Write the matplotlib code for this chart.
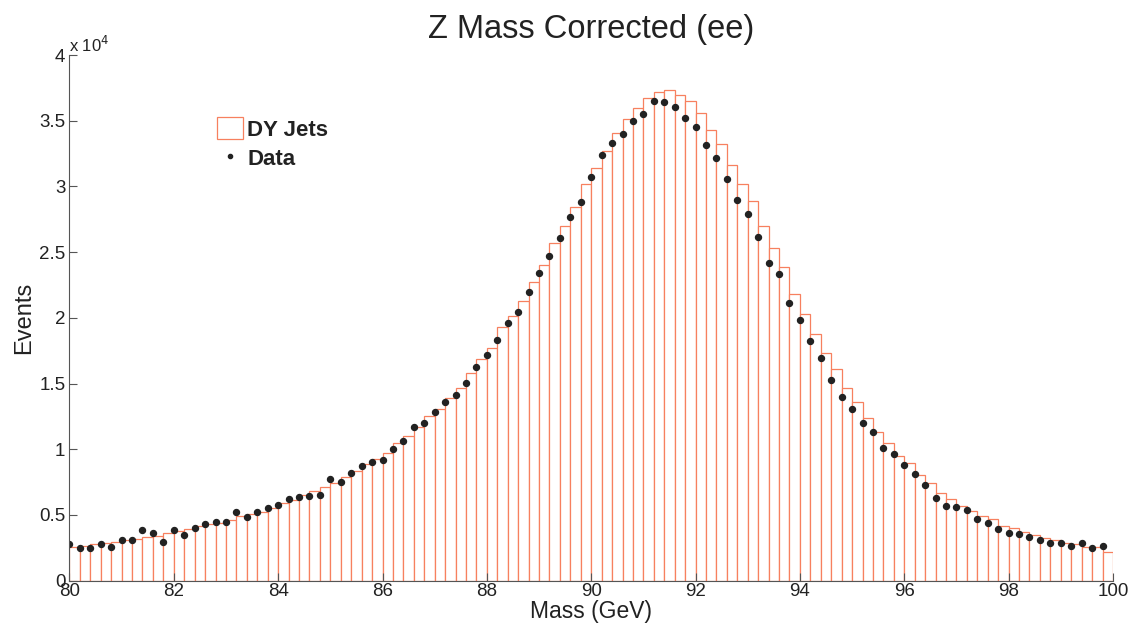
import matplotlib.pyplot as plt
import numpy as np

plt.rcParams['font.family'] = ['Liberation Sans', 'DejaVu Sans']

# bin edges: 80 -> 100 GeV, 0.2 GeV wide
edges = np.linspace(80, 100, 101)

# DY Jets MC (events per bin)
mc = [2582, 2658, 2785, 2887, 2938, 3065, 3141, 3343, 3420, 3597,
      3800, 3927, 4181, 4307, 4409, 4612, 4916, 5069, 5246, 5500,
      5880, 6134, 6480, 6844, 7098, 7453, 7910, 8366, 8874, 9229,
      9686, 10497, 11005, 11664, 12527, 13034, 13922, 14632, 15774, 16839,
      17676, 19275, 20137, 21304, 22699, 24043, 25667, 26986, 28458, 30183,
      31426, 32719, 34039, 35104, 35992, 36753, 37159, 37336, 36956, 36499,
      35561, 34292, 33202, 31629, 30158, 28914, 26986, 25287, 23891, 21811,
      20264, 18742, 17346, 16078, 14683, 13567, 12349, 11334, 10447, 9508,
      8925, 8037, 7453, 6641, 6210, 5677, 5297, 4916, 4663, 4181,
      4003, 3673, 3470, 3242, 3090, 2836, 2785, 2582, 2532, 2202]

# Data (events per bin, plotted at bin left edge)
data = [2785, 2456, 2456, 2760, 2582, 3065, 3065, 3826, 3648, 2912,
        3826, 3496, 4028, 4307, 4460, 4460, 5196, 4815, 5246, 5550,
        5728, 6185, 6388, 6438, 6489, 7707, 7529, 8189, 8747, 9026,
        9178, 10040, 10649, 11715, 11969, 12856, 13592, 14150, 15038, 16281,
        17169, 18311, 19579, 20467, 21989, 23435, 24729, 26073, 27697, 28813,
        30741, 32365, 33278, 33988, 35002, 35485, 36525, 36448, 36068, 35180,
        34546, 33151, 32136, 30538, 28965, 27875, 26124, 24145, 23308, 21152,
        19833, 18260, 16916, 15266, 13998, 13059, 12019, 11284, 10066, 9609,
        8772, 8113, 7250, 6311, 5677, 5576, 5373, 4713, 4358, 3952,
        3597, 3521, 3318, 3090, 2887, 2887, 2658, 2887, 2456, 2658]

fig = plt.figure(figsize=(11.33, 6.25), dpi=100)
ax = fig.add_axes([0.0613, 0.071, 0.921, 0.841])

bars = ax.bar(edges[:-1], mc, width=np.diff(edges), align='edge', facecolor='white',
              edgecolor='#f7805f', linewidth=0.9, label='DY Jets')
pts, = ax.plot(edges[:-1], data, linestyle='none', marker='o', markersize=4.3,
               color='#222222', label='Data')

ax.set_xlim(80, 100)
ax.set_ylim(0, 40000)
ax.set_xticks(np.arange(80, 101, 2))
yt = np.arange(0, 40001, 5000)
ax.set_yticks(yt)
ax.set_yticklabels([f'{v/1e4:g}' for v in yt])
ax.tick_params(direction='in', labelsize=13.5, length=6, color='#555555',
               labelcolor='#222222')
ax.tick_params(axis='x', pad=2)
ax.tick_params(axis='y', pad=3)
ax.text(0.0, 1.0, r'x 10$^4$', transform=ax.transAxes, fontsize=12,
        ha='left', va='bottom', color='#222222')

for s in ['top', 'right']:
    ax.spines[s].set_visible(False)
for s in ['left', 'bottom']:
    ax.spines[s].set_color('#555555')

ax.set_title('Z Mass Corrected (ee)', fontsize=23.5, pad=12, color='#222222')
ax.set_xlabel('Mass (GeV)', fontsize=16.5, labelpad=0, color='#222222')
ax.set_ylabel('Events', fontsize=17, labelpad=3, color='#222222')

leg = ax.legend(handles=[bars, pts], loc='upper left',
                bbox_to_anchor=(216.7 / 1133, 1 - 117 / 625),
                bbox_transform=fig.transFigure, frameon=False,
                prop={'weight': 'bold', 'size': 16}, handlelength=1.17,
                handleheight=1.17, handletextpad=0.2, labelspacing=0.27,
                borderpad=0, borderaxespad=0)
for t in leg.get_texts():
    t.set_color('#222222')
leg.legend_handles[1].set_markersize(3)

fig.savefig('out.png', dpi=100)
